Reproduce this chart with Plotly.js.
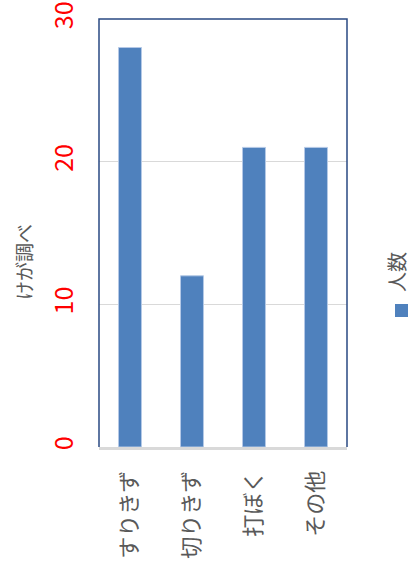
<!DOCTYPE html>
<html>
<head>
<meta charset="utf-8">
<script src="https://cdn.plot.ly/plotly-3.0.1.min.js"></script>
<style>html,body{margin:0;padding:0;background:#fff;}#chart{width:410px;height:570px;}</style>
</head>
<body>
<div id="chart"></div>
<script>
const categories = ["すりきず", "切りきず", "打ぼく", "その他"];
const counts = [28, 12, 21, 21];
const seriesName = "人数";
const yTicks = [0, 10, 20, 30];
const chartTitle = "けが調べ";

const JP = '"Noto Sans CJK JP", "Noto Sans", sans-serif';
const pxX = p => (p - 99) / 248;
const pxY = p => (447 - p) / 428;

const trace = {
  type: 'bar',
  x: categories,
  y: counts,
  name: seriesName,
  width: 0.37,
  marker: {color: '#4f81bd', line: {color: '#b4c9e6', width: 1}},
  showlegend: false,
  hoverinfo: 'skip'
};

const layout = {
  width: 410, height: 570,
  margin: {l: 99, r: 63, t: 19, b: 123},
  paper_bgcolor: '#ffffff', plot_bgcolor: '#ffffff',
  showlegend: false,
  xaxis: {
    type: 'category',
    showline: true, linecolor: '#d9d9d9', linewidth: 3,
    showgrid: false, zeroline: false,
    ticks: '', tickangle: -90,
    ticklabelstandoff: 12,
    tickfont: {family: JP, size: 22, color: '#595959'}
  },
  yaxis: {
    range: [0, 30],
    tickvals: yTicks,
    ticktext: yTicks.map(String),
    showgrid: true, gridcolor: '#d9d9d9', gridwidth: 1,
    zeroline: false, showline: false,
    ticks: '', tickangle: -90,
    ticklabelstandoff: 20,
    tickfont: {family: JP, size: 25, color: '#ff0000'}
  },
  shapes: [
    {type: 'path', xref: 'paper', yref: 'paper',
     path: 'M0,0 L0,1 L1,1 L1,0',
     line: {color: '#2a4a82', width: 1.5}, layer: 'above'},
    {type: 'rect', xref: 'paper', yref: 'paper',
     x0: pxX(395), x1: pxX(408), y0: pxY(317), y1: pxY(304),
     fillcolor: '#4f81bd', line: {width: 0}}
  ],
  annotations: [
    {text: chartTitle, xref: 'paper', yref: 'paper', x: pxX(23), y: pxY(262),
     showarrow: false, textangle: -90, xanchor: 'center', yanchor: 'middle',
     font: {family: JP, size: 19, color: '#595959'}},
    {text: seriesName, xref: 'paper', yref: 'paper', x: pxX(396), y: pxY(272),
     showarrow: false, textangle: -90, xanchor: 'center', yanchor: 'middle',
     borderpad: 0,
     font: {family: JP, size: 20, color: '#595959'}}
  ]
};

Plotly.newPlot('chart', [trace], layout, {staticPlot: true, displayModeBar: false});
</script>
</body>
</html>
